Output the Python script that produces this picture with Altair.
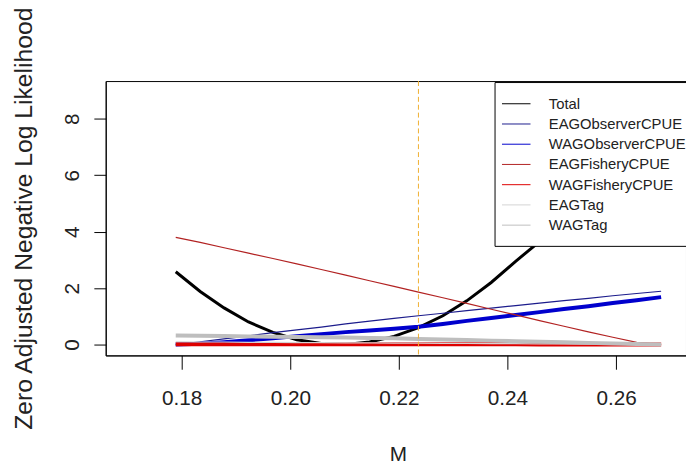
import altair as alt
import pandas as pd

# ---- data ----
M = [0.1789, 0.1834, 0.1878, 0.1923, 0.1968, 0.2012, 0.2057, 0.2102, 0.2146, 0.2191,
     0.2236, 0.2281, 0.2325, 0.2370, 0.2415, 0.2459, 0.2504, 0.2549, 0.2594, 0.2638, 0.2683]

total = [2.58, 1.88, 1.30, 0.80, 0.43, 0.17, 0.04, 0.00, 0.09, 0.29,
         0.60, 1.02, 1.55, 2.20, 2.95, 3.65, 4.40, 5.20, 6.05, 7.00, 8.00]
eag_obs = [0.00, 0.10, 0.20, 0.31, 0.42, 0.52, 0.62, 0.73, 0.83, 0.93,
           1.02, 1.11, 1.20, 1.29, 1.38, 1.47, 1.56, 1.64, 1.73, 1.81, 1.89]
wag_obs = [0.00, 0.03, 0.08, 0.15, 0.22, 0.30, 0.37, 0.44, 0.50, 0.56,
           0.63, 0.73, 0.84, 0.94, 1.05, 1.15, 1.26, 1.36, 1.47, 1.57, 1.68]
eag_fish = [3.80, 3.62, 3.43, 3.24, 3.05, 2.86, 2.66, 2.46, 2.26, 2.06,
            1.86, 1.66, 1.46, 1.25, 1.05, 0.85, 0.65, 0.45, 0.26, 0.08, 0.00]
wag_fish = [0.01, 0.01, 0.01, 0.01, 0.01, 0.01, 0.01, 0.01, 0.01, 0.01,
            0.01, 0.01, 0.01, 0.01, 0.01, 0.00, 0.00, 0.00, 0.00, 0.00, 0.00]
eag_tag = [0.10, 0.09, 0.09, 0.08, 0.08, 0.07, 0.07, 0.06, 0.06, 0.05,
           0.05, 0.04, 0.04, 0.03, 0.03, 0.02, 0.02, 0.01, 0.01, 0.00, 0.00]
wag_tag = [0.32, 0.31, 0.30, 0.29, 0.28, 0.27, 0.26, 0.25, 0.23, 0.22,
           0.20, 0.18, 0.16, 0.14, 0.12, 0.10, 0.08, 0.06, 0.04, 0.02, 0.00]

series_names = ["Total", "EAGObserverCPUE", "WAGObserverCPUE", "EAGFisheryCPUE",
                "WAGFisheryCPUE", "EAGTag", "WAGTag"]
series_values = [total, eag_obs, wag_obs, eag_fish, wag_fish, eag_tag, wag_tag]
series_colors = ["#000000", "#1C1C8C", "#0000CD", "#B22222", "#DD0000", "#D3D3D3", "#BEBEBE"]
series_widths = [3, 1.2, 4, 1.2, 4, 1.2, 4]

x_ticks = [0.18, 0.20, 0.22, 0.24, 0.26]
y_ticks = [0, 2, 4, 6, 8]
m_ref = [0.2236]

rows = []
for name, vals in zip(series_names, series_values):
    for m, v in zip(M, vals):
        rows.append({"M": m, "value": v, "series": name})
df = pd.DataFrame(rows)

xscale = alt.Scale(domain=[0.166, 0.27288], nice=False, zero=False)
yscale = alt.Scale(domain=[-0.385, 9.34], nice=False, zero=False)

x_axis = alt.Axis(values=x_ticks, format=".2f", title="M", tickSize=14,
                  labelBaseline="alphabetic", labelPadding=36,
                  titleX=296, titleY=106, titleAlign="center", titleBaseline="alphabetic")
y_axis = alt.Axis(values=y_ticks, title="Zero Adjusted Negative Log Likelihood",
                  tickSize=12, labelAngle=270, labelAlign="center",
                  labelBaseline="alphabetic", labelPadding=16,
                  titleAngle=270, titleX=-75, titleY=139, titleAlign="center",
                  titleBaseline="alphabetic", titleFontSize=25)

# the legend box runs past the right edge of the picture, as in the reference
legend = alt.Legend(orient="none", legendX=394, legendY=1, title=None,
                    symbolType="M-1.7,0H1.7", symbolStrokeWidth=1, symbolSize=289,
                    labelFont="Liberation Sans", labelFontSize=15,
                    labelExpr="datum.label + '\u00a0\u00a0\u00a0\u00a0'",
                    labelColor="#222222", labelOffset=24, padding=13, rowPadding=3.5,
                    fillColor="white", strokeColor="black", labelLimit=400)

color = alt.Color("series:N", scale=alt.Scale(domain=series_names, range=series_colors),
                  sort=series_names, legend=legend)

layers = []
for name, w in zip(series_names, series_widths):
    layers.append(
        alt.Chart(df).transform_filter(alt.datum.series == name)
        .mark_line(strokeWidth=w)
        .encode(
            x=alt.X("M:Q", scale=xscale, axis=x_axis),
            y=alt.Y("value:Q", scale=yscale, axis=y_axis),
            color=color,
        )
    )

vline = alt.Chart(pd.DataFrame({"M": m_ref})).mark_rule(
    color="#F0B030", strokeWidth=1, strokeDash=[5, 3]
).encode(x=alt.X("M:Q", scale=xscale, axis=x_axis))

chart = alt.layer(*layers, vline).properties(
    width=588, height=278,
    autosize=alt.AutoSizeParams(type="none"),
    padding={"left": 99, "top": 71, "right": 0, "bottom": 107},
).configure_view(stroke="black", strokeWidth=1).configure_axis(
    grid=False, domainColor="black", tickColor="black", domainWidth=1,
    labelFont="Liberation Sans", labelFontSize=21, labelColor="#222222",
    titleFont="Liberation Sans", titleFontSize=21, titleColor="#222222",
    titleFontWeight="normal",
)

chart.save("out.html", embed_options={"renderer": "svg", "actions": False})
